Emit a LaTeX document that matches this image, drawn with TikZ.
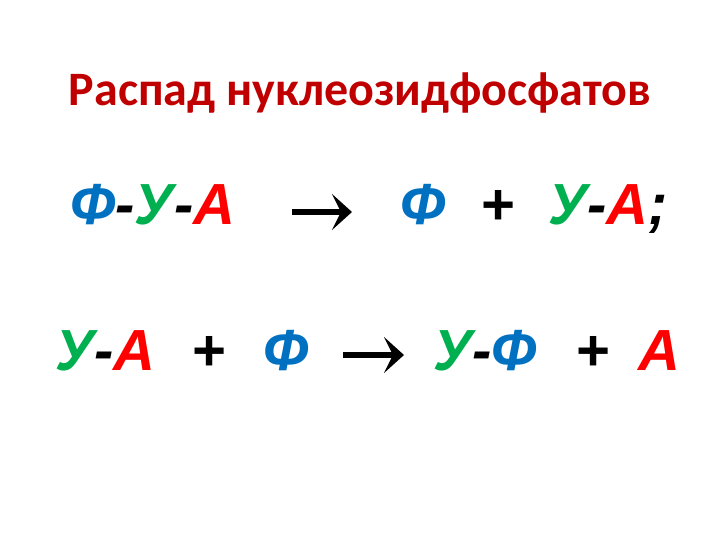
\documentclass[tikz,border=0pt]{standalone}
\usepackage{fontspec}
\setmainfont{Liberation Sans}
\newfontfamily\titlefont{Carlito}
\usetikzlibrary{arrows.meta}
\definecolor{tred}{HTML}{C00000}
\definecolor{cblue}{HTML}{0070C0}
\definecolor{cgreen}{HTML}{00B050}
\definecolor{cred}{HTML}{FF0000}
\tikzset{
  term/.style={inner sep=0pt, anchor=base west, font=\fontsize{58}{62}\selectfont\bfseries\itshape},
  ttl/.style={inner sep=0pt, anchor=base, font=\titlefont\fontsize{48}{56}\selectfont\bfseries, text=tred},
  reacarrow/.style={line width=5.5pt, -{Stealth[length=20pt,width=36pt,inset=9pt]}}
}
\newcommand{\cF}{\textcolor{cblue}{Ф}}
\newcommand{\cU}{\textcolor{cgreen}{У}}
\newcommand{\cA}{\textcolor{cred}{А}}
\begin{document}
\begin{tikzpicture}[x=1pt,y=-1pt]
\useasboundingbox (0,0) rectangle (720,540);
\node[ttl] (title) at (360,106) {Распад нуклеозидфосфатов};
% line 1
\node[term] (l1a) at (70,225) {\cF-\cU-\cA};
\coordinate (a1s) at (292,212);
\coordinate (a1e) at (352,212);
\draw[reacarrow] (a1s) -- (a1e);
\node[term] (l1b) at (400,225) {\cF};
\node[term] (l1p) at (480,225) {+};
\node[term] (l1c) at (548,225) {\cU-\cA;};
% line 2
\node[term] (l2a) at (55,370) {\cU-\cA};
\node[term] (l2p) at (191,370) {+};
\node[term] (l2b) at (263,370) {\cF};
\coordinate (a2s) at (343,355);
\coordinate (a2e) at (404,355);
\draw[reacarrow] (a2s) -- (a2e);
\node[term] (l2c) at (433,370) {\cU-\cF};
\node[term] (l2p2) at (575,370) {+};
\node[term] (l2d) at (638,370) {\cA};
\end{tikzpicture}
\end{document}
